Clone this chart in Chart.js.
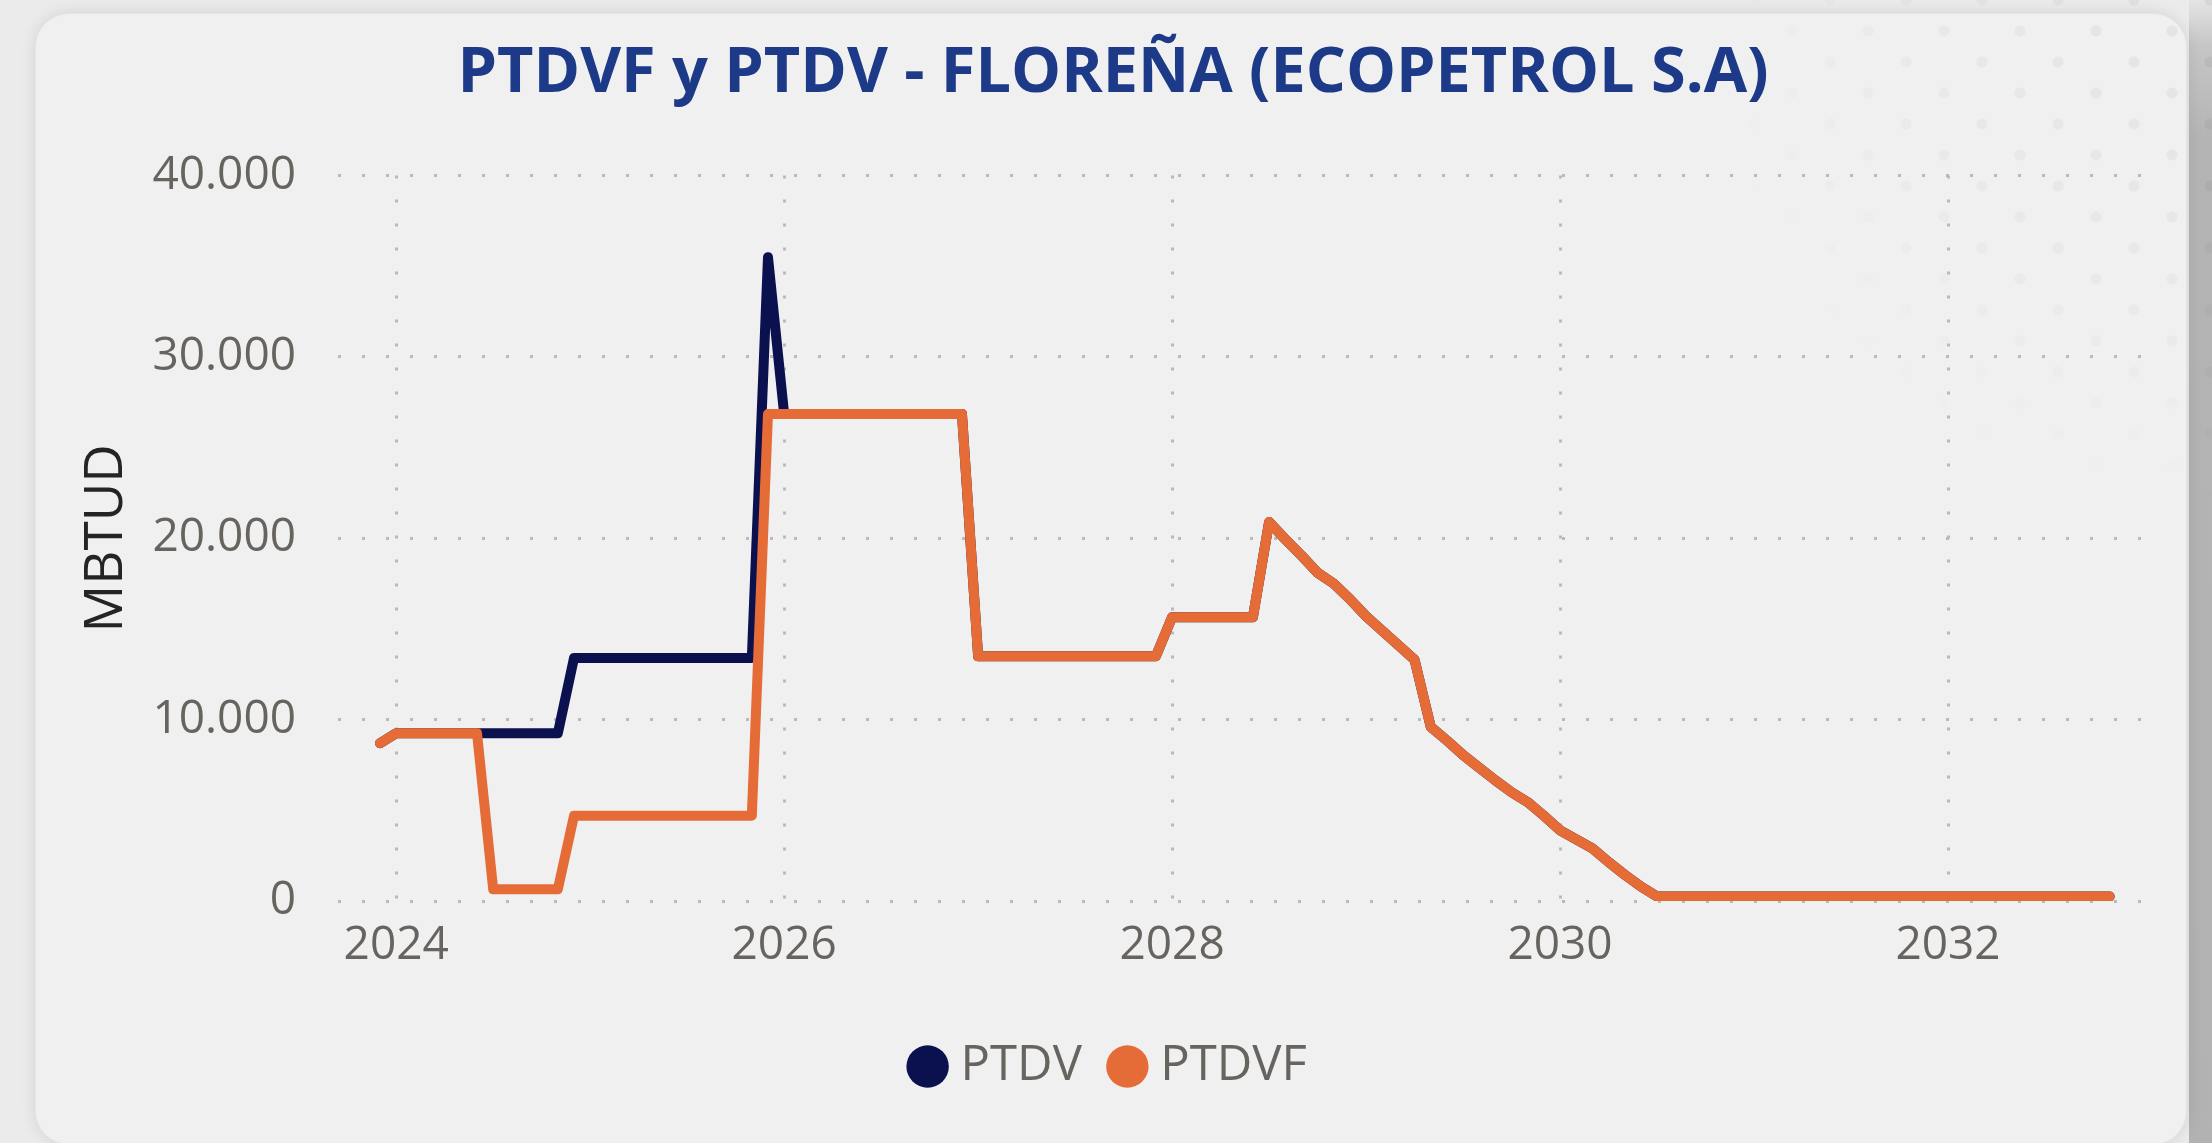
<!DOCTYPE html>
<html>
<head>
<meta charset="utf-8">
<script src="https://cdn.jsdelivr.net/npm/chart.js@4.4.1/dist/chart.umd.min.js"></script>
<style>
html,body{margin:0;padding:0;width:2212px;height:1143px;overflow:hidden;background:#ebebeb;}
#edge{position:absolute;left:2189px;top:0;width:23px;height:1143px;background:linear-gradient(to bottom,#e4e4e4 0px,#c6c6c6 45px,#b4b4b4 140px,#b2b2b2 100%);}
#card{position:absolute;left:35px;top:13px;width:2152px;height:1132px;background:#f0f0f0;border-radius:34px;box-shadow:0 0 16px rgba(0,0,0,0.10);border:1px solid #e5e5e5;box-sizing:border-box;}
#dots{position:absolute;left:1450px;top:0;width:762px;height:820px;
background-image:radial-gradient(circle,rgba(0,0,0,0.05) 0 5px,transparent 6px),radial-gradient(circle,rgba(0,0,0,0.05) 0 5px,transparent 6px);
background-size:76px 62px;background-position:0 0,38px 31px;
-webkit-mask-image:radial-gradient(ellipse 85% 80% at 100% 0%,#000 0%,rgba(0,0,0,0.55) 45%,transparent 78%);
mask-image:radial-gradient(ellipse 85% 80% at 100% 0%,#000 0%,rgba(0,0,0,0.55) 45%,transparent 78%);}
#c{position:absolute;left:0;top:0;}
</style>
</head>
<body>
<div id="edge"></div>
<div id="card"></div>
<div id="dots"></div>
<canvas id="c" width="2212" height="1143"></canvas>
<script>
// ---- data ----
const titleText = 'PTDVF y PTDV - FLOREÑA (ECOPETROL S.A)';
const yAxisTitle = 'MBTUD';
const seriesNames = ['PTDV', 'PTDVF'];
const xTickYears = [2024, 2026, 2028, 2030, 2032];
const yTickValues = [0, 10000, 20000, 30000, 40000];

const months = [
  '2023-12',
  '2024-01','2024-02','2024-03','2024-04','2024-05','2024-06','2024-07','2024-08','2024-09','2024-10','2024-11','2024-12',
  '2025-01','2025-02','2025-03','2025-04','2025-05','2025-06','2025-07','2025-08','2025-09','2025-10','2025-11','2025-12',
  '2026-01','2026-02','2026-03','2026-04','2026-05','2026-06','2026-07','2026-08','2026-09','2026-10','2026-11','2026-12',
  '2027-01','2027-02','2027-03','2027-04','2027-05','2027-06','2027-07','2027-08','2027-09','2027-10','2027-11','2027-12',
  '2028-01','2028-02','2028-03','2028-04','2028-05','2028-06','2028-07','2028-08','2028-09','2028-10','2028-11','2028-12',
  '2029-01','2029-02','2029-03','2029-04','2029-05','2029-06','2029-07','2029-08','2029-09','2029-10','2029-11','2029-12',
  '2030-01','2030-02','2030-03','2030-04','2030-05','2030-06','2030-07','2030-08','2030-09','2030-10','2030-11','2030-12',
  '2031-01','2031-02','2031-03','2031-04','2031-05','2031-06','2031-07','2031-08','2031-09','2031-10','2031-11','2031-12',
  '2032-01','2032-02','2032-03','2032-04','2032-05','2032-06','2032-07','2032-08','2032-09','2032-10','2032-11'
];

const ptdv = [
  8700,
  9250,9250,9250,9250,9250,9250,9250,9250,9250,9250,9250,13400,
  13400,13400,13400,13400,13400,13400,13400,13400,13400,13400,13400,35500,
  26850,26850,26850,26850,26850,26850,26850,26850,26850,26850,26850,26850,
  13500,13500,13500,13500,13500,13500,13500,13500,13500,13500,13500,13500,
  15650,15650,15650,15650,15650,15650,20900,19950,19050,18100,17500,16650,
  15700,14900,14100,13300,9600,8850,8050,7350,6650,6000,5450,4700,
  3900,3400,2900,2150,1450,800,250,250,250,250,250,250,
  250,250,250,250,250,250,250,250,250,250,250,250,
  250,250,250,250,250,250,250,250,250,250,250
];

const ptdvf = [
  8700,
  9250,9250,9250,9250,9250,9250,650,650,650,650,650,4700,
  4700,4700,4700,4700,4700,4700,4700,4700,4700,4700,4700,26850,
  26850,26850,26850,26850,26850,26850,26850,26850,26850,26850,26850,26850,
  13500,13500,13500,13500,13500,13500,13500,13500,13500,13500,13500,13500,
  15650,15650,15650,15650,15650,15650,20900,19950,19050,18100,17500,16650,
  15700,14900,14100,13300,9600,8850,8050,7350,6650,6000,5450,4700,
  3900,3400,2900,2150,1450,800,250,250,250,250,250,250,
  250,250,250,250,250,250,250,250,250,250,250,250,
  250,250,250,250,250,250,250,250,250,250,250
];

// ---- helpers ----
const toX = m => { const p = m.split('-').map(Number); return p[0] + (p[1] - 1) / 12; };
const pts = vals => months.map((m, i) => ({ x: toX(m), y: vals[i] }));
const fmt = v => String(v).replace(/\B(?=(\d{3})+(?!\d))/g, '.');

Chart.defaults.font.family = "'Open Sans', sans-serif";

const GRID = '#BCB9B6';
const TICK = '#67635F';
const NAVY = '#0B114F';
const ORANGE = '#E66C37';

const lineStyle = c => ({
  borderColor: c, backgroundColor: c, borderWidth: 10,
  pointRadius: 0, pointHoverRadius: 0, tension: 0,
  borderJoinStyle: 'round', borderCapStyle: 'round', fill: false
});

new Chart(document.getElementById('c'), {
  type: 'line',
  data: {
    datasets: [
      Object.assign({ label: seriesNames[1], data: pts(ptdvf) }, lineStyle(ORANGE)),
      Object.assign({ label: seriesNames[0], data: pts(ptdv) }, lineStyle(NAVY))
    ]
  },
  options: {
    responsive: false,
    animation: false,
    devicePixelRatio: 1,
    events: [],
    layout: { padding: { left: 35, right: 21, top: 0, bottom: 42 } },
    plugins: {
      title: {
        display: true, text: titleText, color: '#1C3A87',
        font: { size: 63, weight: 'bold' },
        padding: { top: 36, bottom: 64 }
      },
      legend: {
        position: 'bottom',
        labels: {
          usePointStyle: true, pointStyle: 'circle',
          boxWidth: 17, boxHeight: 30, padding: 37,
          color: TICK, font: { size: 49 },
          sort: (a, b) => b.datasetIndex - a.datasetIndex,
          generateLabels: chart => Chart.defaults.plugins.legend.labels.generateLabels(chart)
            .map(l => Object.assign(l, { lineWidth: 0 }))
        }
      },
      tooltip: { enabled: false }
    },
    scales: {
      x: {
        type: 'linear', min: 2023.7, max: 2033,
        afterBuildTicks: s => { s.ticks = xTickYears.map(v => ({ value: v })); },
        afterFit: s => { s.height = 104; },
        grid: { color: GRID, lineWidth: 3, drawTicks: false },
        border: { display: false, dash: [3, 21] },
        ticks: { color: TICK, font: { size: 46 }, padding: 17, maxRotation: 0, autoSkip: false, callback: v => String(v) }
      },
      y: {
        type: 'linear', min: 0, max: 40000,
        afterBuildTicks: s => { s.ticks = yTickValues.map(v => ({ value: v })); },
        afterFit: s => { s.width = 303; },
        grid: { color: GRID, lineWidth: 3, drawTicks: false },
        border: { display: false, dash: [3, 21] },
        ticks: { color: TICK, font: { size: 46 }, padding: 42, callback: v => fmt(v) },
        title: { display: true, text: yAxisTitle, color: '#252423', font: { size: 53 }, padding: { top: 40, bottom: 0 } }
      },
      yR: {
        type: 'linear', position: 'right', display: true,
        grid: { display: false, drawTicks: false },
        border: { display: false },
        ticks: { display: false },
        afterFit: s => { s.width = 49; }
      }
    }
  }
});
</script>
</body>
</html>
